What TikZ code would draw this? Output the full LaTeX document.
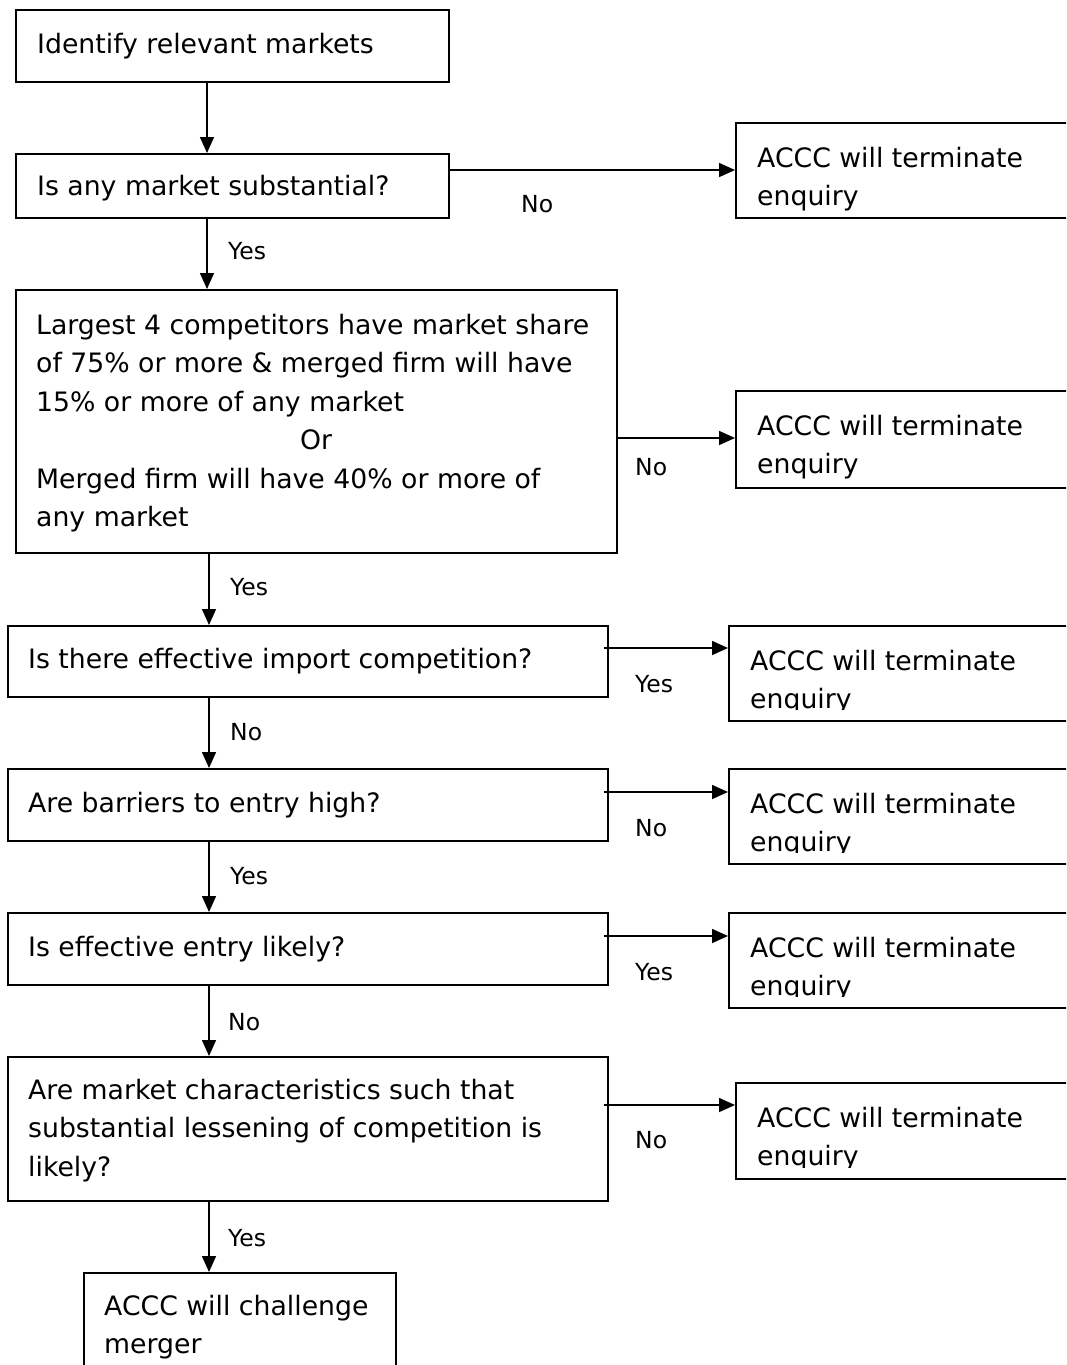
\documentclass[tikz,border=0pt]{standalone}
\usepackage{fontspec}
\setmainfont{DejaVu Sans}
\usetikzlibrary{arrows.meta,calc}
\begin{document}
\begin{tikzpicture}[x=1pt,y=-1pt,
  box/.style={draw, line width=1.6pt, rectangle, inner sep=0pt, anchor=north west},
  txt/.style={anchor=north west, inner sep=0pt, align=left, font=\fontsize{26.7}{38.5}\selectfont},
  lbl/.style={anchor=base west, inner sep=0pt, font=\fontsize{23.5}{28}\selectfont},
  arr/.style={line width=1.6pt, -{Triangle[length=16pt,width=14pt]}}]
\useasboundingbox (0,0) rectangle (1066,1365);
\clip (0,0) rectangle (1066,1365);

% left column boxes
\node[box, minimum width=433pt, minimum height=72pt] (b1) at (15,9) {};
\node[box, minimum width=433pt, minimum height=64pt] (b2) at (15,153) {};
\node[box, minimum width=601pt, minimum height=263pt] (b3) at (15,289) {};
\node[box, minimum width=600pt, minimum height=71pt] (b4) at (7,625) {};
\node[box, minimum width=600pt, minimum height=72pt] (b5) at (7,768) {};
\node[box, minimum width=600pt, minimum height=72pt] (b6) at (7,912) {};
\node[box, minimum width=600pt, minimum height=144pt] (b7) at (7,1056) {};
\node[box, minimum width=312pt, minimum height=110pt] (b8) at (83,1272) {};

% right column boxes
\node[box, minimum width=340pt, minimum height=95pt] (rA) at (735,122) {};
\node[box, minimum width=340pt, minimum height=97pt] (rB) at (735,390) {};
\node[box, minimum width=347pt, minimum height=95pt] (rC) at (728,625) {};
\node[box, minimum width=347pt, minimum height=95pt] (rD) at (728,768) {};
\node[box, minimum width=347pt, minimum height=95pt] (rE) at (728,912) {};
\node[box, minimum width=340pt, minimum height=96pt] (rF) at (735,1082) {};

% texts
\node[txt] (t1) at (37,26) {\strut Identify relevant markets};
\node[txt] (t2) at (37,168) {\strut Is any market substantial?};
\node[txt] (t3) at (36,307) {\strut Largest 4 competitors have market share\\
of 75\% or more \& merged firm will have\\
15\% or more of any market\\
\hspace*{264pt}Or\\
Merged firm will have 40\% or more of\\
any market};
\node[txt] (t4) at (28,641) {\strut Is there effective import competition?};
\node[txt] (t5) at (28,785) {\strut Are barriers to entry high?};
\node[txt] (t6) at (28,929) {\strut Is effective entry likely?};
\node[txt] (t7) at (28,1072) {\strut Are market characteristics such that\\
substantial lessening of competition is\\
likely?};
\node[txt] (t8) at (104,1288) {\strut ACCC will challenge\\merger};

\node[txt] (tA) at (757,140) {\strut ACCC will terminate\\enquiry};
\node[txt] (tB) at (757,408) {\strut ACCC will terminate\\enquiry};
\begin{scope}
\clip (728,625) rectangle (1066,709);
\node[txt] (tC) at (750,643) {\strut ACCC will terminate\\enquiry};
\end{scope}
\begin{scope}
\clip (728,768) rectangle (1066,852);
\node[txt] (tD) at (750,786) {\strut ACCC will terminate\\enquiry};
\end{scope}
\begin{scope}
\clip (728,912) rectangle (1066,996);
\node[txt] (tE) at (750,930) {\strut ACCC will terminate\\enquiry};
\end{scope}
\begin{scope}
\clip (735,1082) rectangle (1066,1167);
\node[txt] (tF) at (757,1100) {\strut ACCC will terminate\\enquiry};
\end{scope}

% vertical connectors
\draw[arr] (207,0 |- b1.south) -- (207,0 |- b2.north);
\draw[arr] (207,0 |- b2.south) -- (207,0 |- b3.north);
\draw[arr] (209,0 |- b3.south) -- (209,0 |- b4.north);
\draw[arr] (209,0 |- b4.south) -- (209,0 |- b5.north);
\draw[arr] (209,0 |- b5.south) -- (209,0 |- b6.north);
\draw[arr] (209,0 |- b6.south) -- (209,0 |- b7.north);
\draw[arr] (209,0 |- b7.south) -- (209,0 |- b8.north);

% horizontal connectors
\draw[arr] (b2.east |- 0,170) -- (rA.west |- 0,170);
\draw[arr] (b3.east |- 0,438) -- (rB.west |- 0,438);
\draw[arr] ($(b4.east |- 0,648)+(-5,0)$) -- (rC.west |- 0,648);
\draw[arr] ($(b5.east |- 0,792)+(-5,0)$) -- (rD.west |- 0,792);
\draw[arr] ($(b6.east |- 0,936)+(-5,0)$) -- (rE.west |- 0,936);
\draw[arr] ($(b7.east |- 0,1105)+(-5,0)$) -- (rF.west |- 0,1105);

% labels
\node[lbl] (l1) at (521,212) {No};
\node[lbl] (l2) at (228,259) {Yes};
\node[lbl] (l3) at (635,475) {No};
\node[lbl] (l4) at (230,595) {Yes};
\node[lbl] (l5) at (635,692) {Yes};
\node[lbl] (l6) at (230,740) {No};
\node[lbl] (l7) at (635,836) {No};
\node[lbl] (l8) at (230,884) {Yes};
\node[lbl] (l9) at (635,980) {Yes};
\node[lbl] (l10) at (228,1030) {No};
\node[lbl] (l11) at (635,1148) {No};
\node[lbl] (l12) at (228,1246) {Yes};
\end{tikzpicture}
\end{document}
